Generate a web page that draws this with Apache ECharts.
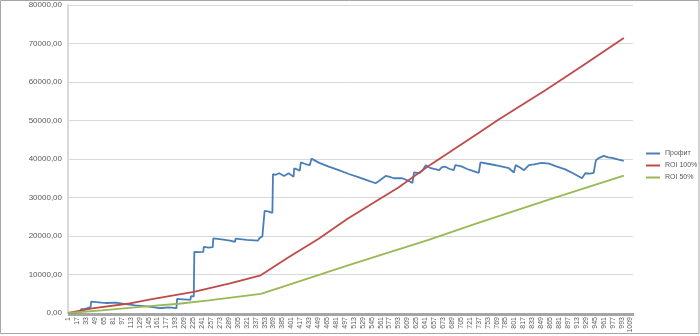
<!DOCTYPE html>
<html>
<head>
<meta charset="utf-8">
<script src="https://cdn.jsdelivr.net/npm/echarts@6/dist/echarts.min.js"></script>
<style>
html,body{margin:0;padding:0;background:#fff;}
#c{width:700px;height:336px;}
</style>
</head>
<body>
<div id="c"></div>
<script>
// Category axis: trade numbers 1..1013
var categoryCount = 1013;
var categories = [];
for (var i = 1; i <= categoryCount; i++) categories.push(String(i));

var seriesNames = ['Профит', 'ROI 100%', 'ROI 50%'];

// [category index, value] keypoints
var profit = [
  [0,0],[6,0],[7,300],[22,300],[23,1000],[29,1000],[30,1500],[40,1500],[41,2950],
  [50,2850],[60,2700],[69,2600],[72,2850],[85,2700],[100,2350],[120,2000],[140,1700],
  [155,1450],[163,1250],[167,1300],[168,1700],[180,1450],[194,1250],[195,3650],
  [205,3550],[215,3450],[219,3400],[220,4400],[225,4300],[226,15900],[235,15800],
  [242,15900],[243,17200],[252,17000],[259,17100],[260,19400],[275,19100],[290,18800],
  [299,18500],[300,19300],[320,19000],[340,18800],[343,19500],[348,19900],[351,19600],
  [352,26500],[358,26400],[366,26000],[367,36100],[372,35900],[378,36300],[387,35600],
  [395,36300],[404,35400],[405,37600],[410,37300],[415,37000],[417,39100],[425,38700],
  [433,38400],[436,40100],[450,39000],[467,38000],[485,37100],[503,36100],[520,35300],
  [539,34300],[551,33700],[557,34300],[560,34000],[569,35600],[575,35400],[584,35000],
  [593,35000],[599,35000],[610,34300],[617,33800],[618,34000],[620,36500],[629,36300],
  [635,37000],[641,38400],[650,37600],[665,37100],[670,37900],[676,38000],[684,37400],
  [691,37100],[694,38400],[705,38100],[715,37400],[725,36900],[736,36400],[739,39100],
  [755,38700],[772,38200],[790,37600],[799,36500],[802,38400],[810,37800],[817,37100],
  [826,38400],[835,38600],[849,39000],[862,38800],[875,38100],[891,37300],[905,36300],
  [921,35000],[924,35500],[927,36300],[935,36200],[942,36400],[946,39700],[952,40300],
  [960,40800],[968,40400],[975,40300],[985,39900],[996,39500]
];

var roi100 = [
  [0,0],[43,1200],[106,2400],[150,3600],[225,5500],[290,7700],[345,9800],[395,14500],
  [449,19300],[500,24400],[556,29400],[592,32600],[650,38600],[735,46700],[771,50200],
  [856,57900],[920,64000],[996,71400]
];

var roi50 = [
  [0,0],[60,700],[130,1600],[198,2400],[252,3300],[345,4950],[395,7300],[500,12300],
  [646,19000],[735,23400],[863,29500],[996,35700]
];

var yTicks = {min: 0, max: 80000, interval: 10000};

var chart = echarts.init(document.getElementById('c'), null, {renderer: 'canvas'});
var font = 'Liberation Sans, Arial, sans-serif';
chart.setOption({
  animation: false,
  backgroundColor: '#fff',
  color: ['#4a7ebb', '#be4b48', '#98b954'],
  graphic: [{
    type: 'rect', silent: true,
    shape: {x: 0.5, y: 0.5, width: 698.5, height: 333},
    style: {fill: 'none', stroke: '#a6a6a6', lineWidth: 1}
  }],
  grid: {left: 68, right: 67, top: 5, bottom: 23, containLabel: false},
  legend: {
    orient: 'vertical', left: 646, top: 150, itemGap: 5, padding: 0,
    width: 54,
    itemWidth: 14, itemHeight: 2, icon: 'rect',
    textStyle: {fontSize: 7, color: '#595959', fontFamily: font, overflow: 'none'},
    data: seriesNames
  },
  xAxis: {
    type: 'category', data: categories, boundaryGap: true,
    axisLine: {lineStyle: {color: '#bfbfbf', width: 1}},
    axisTick: {show: true, interval: 0, length: 3, lineStyle: {color: '#a6a6a6'}},
    axisLabel: {interval: 15, rotate: 90, fontSize: 7, color: '#595959', fontFamily: font, margin: 4}
  },
  yAxis: {
    type: 'value', min: yTicks.min, max: yTicks.max, interval: yTicks.interval,
    axisLine: {show: true, lineStyle: {color: '#d9d9d9', width: 2}},
    axisTick: {show: false},
    splitLine: {lineStyle: {color: '#d9d9d9', width: 1}},
    axisLabel: {
      fontSize: 8, color: '#595959', fontFamily: font, margin: 6,
      formatter: function (v) { return v.toFixed(2).replace('.', ','); }
    }
  },
  series: [
    {name: seriesNames[0], type: 'line', data: profit, showSymbol: false, lineStyle: {width: 1.8}},
    {name: seriesNames[1], type: 'line', data: roi100, showSymbol: false, lineStyle: {width: 1.8}},
    {name: seriesNames[2], type: 'line', data: roi50, showSymbol: false, lineStyle: {width: 1.8}}
  ]
});
</script>
</body>
</html>
